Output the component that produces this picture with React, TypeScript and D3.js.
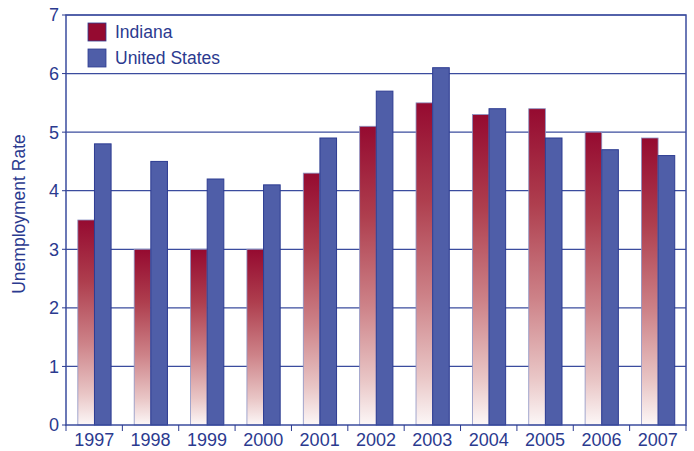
import * as d3 from 'd3';

const YEARS = ['1997', '1998', '1999', '2000', '2001', '2002', '2003', '2004', '2005', '2006', '2007'];
const INDIANA = [3.5, 3.0, 3.0, 3.0, 4.3, 5.1, 5.5, 5.3, 5.4, 5.0, 4.9];
const US = [4.8, 4.5, 4.2, 4.1, 4.9, 5.7, 6.1, 5.4, 4.9, 4.7, 4.6];
const Y_TICKS = [0, 1, 2, 3, 4, 5, 6, 7];

const W = 694, H = 451;
const M = { top: 15, right: 8, bottom: 26, left: 66 };
const BLUE = '#2b3a8f';
const FONT = '"Liberation Sans", Arial, Helvetica, sans-serif';

export default function App() {
  const x = d3.scaleBand<string>().domain(YEARS).range([M.left, W - M.right]);
  const y = d3.scaleLinear().domain([0, 7]).range([H - M.bottom, M.top]);
  const bw = x.bandwidth() * 0.295;
  const off = x.bandwidth() * 0.21;

  return (
    <svg width={W} height={H} style={{ position: 'absolute', left: 0, top: 0, fontFamily: FONT }}>
      <defs>
        <linearGradient id="ind" x1="0" y1="0" x2="0" y2="1">
          <stop offset="0%" stopColor="#950a30" />
          <stop offset="30%" stopColor="#ae3e4e" />
          <stop offset="60%" stopColor="#cd8288" />
          <stop offset="85%" stopColor="#e9c6c6" />
          <stop offset="100%" stopColor="#fcf7f7" />
        </linearGradient>
      </defs>
      <rect x={M.left} y={M.top} width={W - M.right - M.left} height={y(0) - M.top} fill="#fff" />
      {Y_TICKS.filter(t => t > 0).map(t => (
        <line key={t} x1={M.left} x2={W - M.right} y1={y(t)} y2={y(t)} stroke="#3b4c9e" strokeWidth={1.2} />
      ))}
      {YEARS.map((yr, i) => (
        <g key={yr}>
          <rect x={x(yr)! + off} y={y(INDIANA[i])} width={bw} height={y(0) - y(INDIANA[i])}
            fill="url(#ind)" stroke="#8c93c4" strokeWidth={0.8} />
          <rect x={x(yr)! + off + bw} y={y(US[i])} width={bw} height={y(0) - y(US[i])}
            fill="#4f5ea8" stroke="#2d3c92" strokeWidth={1} />
        </g>
      ))}
      <rect x={M.left} y={M.top} width={W - M.right - M.left} height={y(0) - M.top}
        fill="none" stroke="#3b4c9e" strokeWidth={1.5} />
      {YEARS.map(yr => (
        <line key={yr} x1={x(yr)!} x2={x(yr)!} y1={y(0)} y2={y(0) + 6} stroke={BLUE} strokeWidth={1} />
      ))}
      <line x1={W - M.right} x2={W - M.right} y1={y(0)} y2={y(0) + 6} stroke={BLUE} strokeWidth={1} />
      {Y_TICKS.map(t => (
        <g key={t}>
          <line x1={M.left - 4} x2={M.left} y1={y(t)} y2={y(t)} stroke={BLUE} strokeWidth={1} />
          <text x={M.left - 7} y={y(t)} dy="0.36em" textAnchor="end" fontSize={18} fill={BLUE}>{t}</text>
        </g>
      ))}
      {YEARS.map(yr => (
        <text key={yr} x={x(yr)! + x.bandwidth() / 2} y={446} textAnchor="middle" fontSize={18} fill={BLUE}>{yr}</text>
      ))}
      <text transform={`translate(25,${(M.top + y(0)) / 2 - 6}) rotate(-90)`} textAnchor="middle" fontSize={17.5} fill={BLUE}>
        Unemployment Rate
      </text>
      <rect x={88} y={23} width={18} height={18} fill="#950a30" stroke="#2d3c92" strokeWidth={0.8} />
      <text x={115} y={32} dy="0.36em" fontSize={17.5} fill={BLUE}>Indiana</text>
      <rect x={88} y={49} width={18} height={18} fill="#4f5ea8" stroke="#2d3c92" strokeWidth={0.8} />
      <text x={115} y={58} dy="0.36em" fontSize={17.5} fill={BLUE}>United States</text>
    </svg>
  );
}
